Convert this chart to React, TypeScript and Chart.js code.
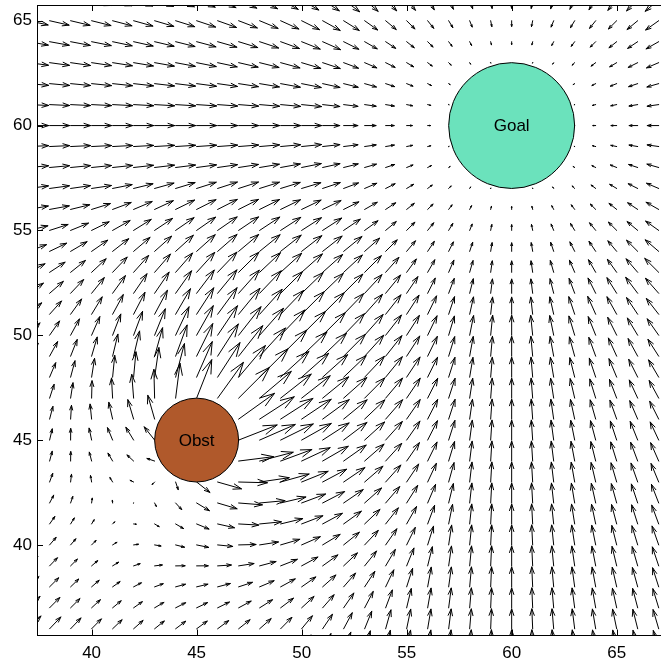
import { useEffect, useRef } from "react";
import { Chart, registerables } from "chart.js";

Chart.register(...registerables);

// Axis limits and tick values
const X_RANGE = [37.4, 67.11];
const Y_RANGE = [35.68, 65.75];
const X_TICKS = [40, 45, 50, 55, 60, 65];
const Y_TICKS = [40, 45, 50, 55, 60, 65];

// Sample grid of the vector field (arrow tails)
const GRID_X = [37, 38, 39, 40, 41, 42, 43, 44, 45, 46, 47, 48, 49, 50, 51, 52, 53, 54, 55, 56, 57, 58, 59, 60, 61, 62, 63, 64, 65, 66, 67, 68];
const GRID_Y = [35, 36, 37, 38, 39, 40, 41, 42, 43, 44, 45, 46, 47, 48, 49, 50, 51, 52, 53, 54, 55, 56, 57, 58, 59, 60, 61, 62, 63, 64, 65, 66];

// Attractive goal: centre, radius, spread of the linear zone, gain
const GOAL_CENTER = [60, 60];
const GOAL_RADIUS = 3;
const GOAL_SPREAD = 7;
const GOAL_GAIN = 0.136;

// Repulsive obstacle: centre, radius, spread of influence, gain
const OBST_CENTER = [45, 45];
const OBST_RADIUS = 2;
const OBST_SPREAD = 11;
const OBST_GAIN = 0.11;

const GOAL_COLOR = "#6BE2BC";
const OBST_COLOR = "#B0592B";
const FONT = "'Liberation Sans', Arial, Helvetica, sans-serif";

type Arrow = { x: number; y: number; u: number; v: number };

// Potential-field vector at one grid point: attraction to the goal plus
// repulsion from the obstacle. Points inside either disc carry no arrow.
function fieldAt(x: number, y: number): Arrow | null {
  const gx = GOAL_CENTER[0] - x;
  const gy = GOAL_CENTER[1] - y;
  const gd = Math.hypot(gx, gy);
  const ox = x - OBST_CENTER[0];
  const oy = y - OBST_CENTER[1];
  const od = Math.hypot(ox, oy);
  if (gd < GOAL_RADIUS || od < OBST_RADIUS) return null;
  let u = 0;
  let v = 0;
  const ga = GOAL_GAIN * Math.min(gd - GOAL_RADIUS, GOAL_SPREAD);
  u += (ga * gx) / gd;
  v += (ga * gy) / gd;
  if (od <= OBST_RADIUS + OBST_SPREAD) {
    const rep = OBST_GAIN * (OBST_RADIUS + OBST_SPREAD - od);
    u += (rep * ox) / od;
    v += (rep * oy) / od;
  }
  if (Math.hypot(u, v) < 1e-6) return null;
  return { x, y, u, v };
}

const ARROWS: Arrow[] = [];
for (const y of GRID_Y) {
  for (const x of GRID_X) {
    const a = fieldAt(x, y);
    if (a) ARROWS.push(a);
  }
}

const quiverPlugin = {
  id: "quiver",
  afterDatasetsDraw(chart: any) {
    const { ctx, chartArea, scales } = chart;
    const xs = scales.x;
    const ys = scales.y;
    const data = chart.data.datasets[0].data as Arrow[];
    ctx.save();
    ctx.beginPath();
    ctx.rect(chartArea.left, chartArea.top, chartArea.right - chartArea.left, chartArea.bottom - chartArea.top);
    ctx.clip();

    // arrows, with MATLAB-style open heads
    ctx.strokeStyle = "#000";
    ctx.lineWidth = 1;
    ctx.lineCap = "round";
    ctx.lineJoin = "round";
    const alpha = 0.33;
    const beta = 0.33;
    ctx.beginPath();
    for (const a of data) {
      const x0 = xs.getPixelForValue(a.x);
      const y0 = ys.getPixelForValue(a.y);
      const x1 = xs.getPixelForValue(a.x + a.u);
      const y1 = ys.getPixelForValue(a.y + a.v);
      const dx = x1 - x0;
      const dy = y1 - y0;
      ctx.moveTo(x0, y0);
      ctx.lineTo(x1, y1);
      const bx = x1 - alpha * dx;
      const by = y1 - alpha * dy;
      const px = -dy * alpha * beta;
      const py = dx * alpha * beta;
      ctx.moveTo(bx + px, by + py);
      ctx.lineTo(x1, y1);
      ctx.lineTo(bx - px, by - py);
    }
    ctx.stroke();

    // goal and obstacle discs
    const discs = [
      { c: GOAL_CENTER, r: GOAL_RADIUS, fill: GOAL_COLOR, label: "Goal" },
      { c: OBST_CENTER, r: OBST_RADIUS, fill: OBST_COLOR, label: "Obst" },
    ];
    for (const d of discs) {
      const cx = xs.getPixelForValue(d.c[0]);
      const cy = ys.getPixelForValue(d.c[1]);
      const rx = Math.abs(xs.getPixelForValue(d.c[0] + d.r) - cx);
      const ry = Math.abs(ys.getPixelForValue(d.c[1] + d.r) - cy);
      ctx.beginPath();
      ctx.ellipse(cx, cy, rx, ry, 0, 0, Math.PI * 2);
      ctx.fillStyle = d.fill;
      ctx.fill();
      ctx.strokeStyle = "#000";
      ctx.lineWidth = 1;
      ctx.stroke();
      ctx.fillStyle = "#000";
      ctx.font = `17px ${FONT}`;
      ctx.textAlign = "center";
      ctx.textBaseline = "middle";
      ctx.fillText(d.label, cx, cy + 1);
    }
    ctx.restore();

    // box top edge and inward tick marks
    ctx.save();
    ctx.strokeStyle = "#000";
    ctx.lineWidth = 1;
    ctx.beginPath();
    ctx.moveTo(chartArea.left, chartArea.top + 0.5);
    ctx.lineTo(chartArea.right, chartArea.top + 0.5);
    for (const t of X_TICKS) {
      const px = Math.round(xs.getPixelForValue(t)) + 0.5;
      ctx.moveTo(px, chartArea.bottom);
      ctx.lineTo(px, chartArea.bottom - 6);
      ctx.moveTo(px, chartArea.top);
      ctx.lineTo(px, chartArea.top + 6);
    }
    for (const t of Y_TICKS) {
      const py = Math.round(ys.getPixelForValue(t)) + 0.5;
      ctx.moveTo(chartArea.left, py);
      ctx.lineTo(chartArea.left + 6, py);
    }
    ctx.stroke();
    ctx.restore();
  },
};

export default function App() {
  const canvasRef = useRef<HTMLCanvasElement | null>(null);

  useEffect(() => {
    const canvas = canvasRef.current;
    if (!canvas) return;
    const chart = new Chart(canvas, {
      type: "scatter",
      data: {
        datasets: [
          {
            data: ARROWS as any,
            pointRadius: 0,
            pointHoverRadius: 0,
            showLine: false,
          },
        ],
      },
      options: {
        animation: false,
        responsive: false,
        devicePixelRatio: 1,
        events: [],
        layout: { padding: { top: 5, right: 0, left: 0, bottom: 0 } },
        plugins: {
          legend: { display: false },
          tooltip: { enabled: false },
        },
        scales: {
          x: {
            type: "linear",
            min: X_RANGE[0],
            max: X_RANGE[1],
            afterBuildTicks: (s: any) => {
              s.ticks = X_TICKS.map((value) => ({ value }));
            },
            afterFit: (s: any) => {
              s.height = 26.5;
              s.paddingLeft = 0;
              s.paddingRight = 0;
            },
            grid: { display: false, drawTicks: false },
            border: { display: true, color: "#000", width: 1 },
            ticks: {
              color: "#000",
              font: { family: FONT, size: 17 },
              padding: 8,
              maxRotation: 0,
              callback: (v: any) => String(v),
            },
          },
          y: {
            type: "linear",
            min: Y_RANGE[0],
            max: Y_RANGE[1],
            afterBuildTicks: (s: any) => {
              s.ticks = Y_TICKS.map((value) => ({ value }));
            },
            afterFit: (s: any) => {
              s.width = 37;
              s.paddingTop = 0;
              s.paddingBottom = 0;
            },
            grid: { display: false, drawTicks: false },
            border: { display: true, color: "#000", width: 1 },
            ticks: {
              color: "#000",
              font: { family: FONT, size: 17 },
              padding: 5,
              callback: (v: any) => String(v),
            },
          },
        },
      },
      plugins: [quiverPlugin],
    });
    return () => chart.destroy();
  }, []);

  return (
    <div style={{ position: "absolute", left: 0, top: 0, width: 661, height: 662, background: "#fff" }}>
      <canvas ref={canvasRef} width={661} height={662} style={{ display: "block" }} />
    </div>
  );
}
